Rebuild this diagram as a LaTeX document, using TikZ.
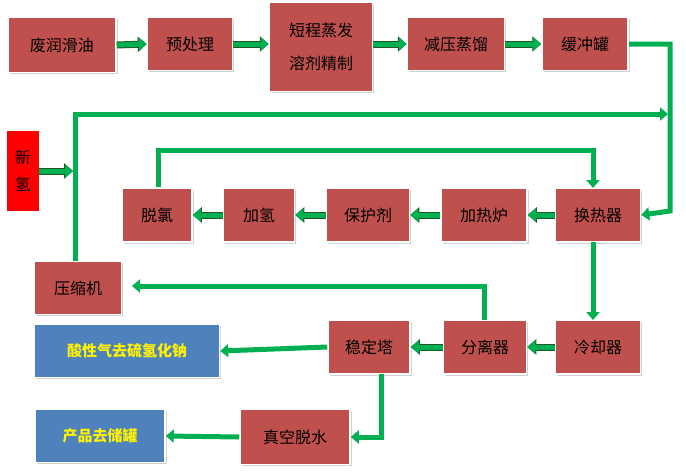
\documentclass[tikz,border=0pt]{standalone}
\usepackage{fontspec}
\setmainfont{Noto Sans CJK SC}
\usetikzlibrary{arrows.meta,shadows,calc}
\definecolor{boxred}{RGB}{192,80,77}
\definecolor{boxblue}{RGB}{79,129,189}
\definecolor{flowgreen}{RGB}{0,176,80}
\definecolor{edgegreen}{RGB}{30,90,40}
\tikzstyle{box}=[draw=white, line width=1.5pt, fill=boxred, font=\fontsize{16}{19}\selectfont, drop shadow={shadow xshift=1.5pt, shadow yshift=-1.5pt, fill=black!35}, inner sep=0pt]
\tikzstyle{outbox}=[box, fill=boxblue, text=yellow, font=\fontsize{15}{18}\selectfont\bfseries]
\tikzstyle{flow}=[flowgreen, line width=5pt, -{Triangle[length=8pt,width=13pt]}]
\tikzstyle{blockflow}=[flow, preaction={draw=edgegreen, line width=7pt, -{Triangle[length=9pt,width=15pt]}}]
\begin{document}
\begin{tikzpicture}[x=1pt,y=-1pt]
  \useasboundingbox (0,0) rectangle (686,475);
  % top row
  \node[box, minimum width=108pt, minimum height=55pt] (oil) at (62,45) {废润滑油};
  \node[box, minimum width=85pt, minimum height=53pt] (pre) at (190,44) {预处理};
  \node[box, minimum width=103pt, minimum height=89pt, align=center] (evap) at (321,47) {短程蒸发\\[14pt]溶剂精制};
  \node[box, minimum width=97pt, minimum height=53pt] (vac) at (456,44) {减压蒸馏};
  \node[box, minimum width=86pt, minimum height=53pt] (buf) at (585,44) {缓冲罐};
  % hydrogen
  \node[fill=red, minimum width=32pt, minimum height=80pt, inner sep=0pt, align=center, font=\fontsize{16}{19}\selectfont] (h2) at (23,171) {新\\[8pt]氢};
  % middle row
  \node[box, minimum width=70pt, minimum height=54pt] (dechl) at (157,215) {脱氯};
  \node[box, minimum width=71pt, minimum height=54pt] (hydro) at (259,215) {加氢};
  \node[box, minimum width=83pt, minimum height=54pt] (guard) at (368,215) {保护剂};
  \node[box, minimum width=86pt, minimum height=54pt] (heat) at (484,215) {加热炉};
  \node[box, minimum width=85pt, minimum height=54pt] (hx) at (598,215) {换热器};
  % lower rows
  \node[box, minimum width=87pt, minimum height=53pt] (comp) at (78,288) {压缩机};
  \node[outbox, minimum width=185pt, minimum height=53pt] (acid) at (127,351) {酸性气去硫氢化钠};
  \node[box, minimum width=82pt, minimum height=54pt] (stab) at (369,347) {稳定塔};
  \node[box, minimum width=83pt, minimum height=54pt] (sep) at (485,347) {分离器};
  \node[box, minimum width=85pt, minimum height=54pt] (cool) at (598,347) {冷却器};
  \node[box, minimum width=110pt, minimum height=55pt] (dry) at (295,437) {真空脱水};
  \node[outbox, minimum width=130pt, minimum height=53pt] (prod) at (100,436) {产品去储罐};
  % short block arrows
  \draw[blockflow] (oil.east) -- (pre.west);
  \draw[blockflow] (pre.east) -- (evap.west |- pre.east);
  \draw[blockflow] (evap.east |- vac.west) -- (vac.west);
  \draw[blockflow] (vac.east) -- (buf.west);
  \draw[blockflow] (h2.east) -- (73,171);
  \draw[blockflow] (hx.west) -- (heat.east);
  \draw[blockflow] (heat.west) -- (guard.east);
  \draw[blockflow] (guard.west) -- (hydro.east);
  \draw[blockflow] (hydro.west) -- (dechl.east);
  \draw[blockflow] (cool.west) -- (sep.east);
  \draw[blockflow] (sep.west) -- (stab.east);
  % long lines
  \draw[flow] (buf.east) -| (670,211) -- (hx.east);
  \draw[flow] (comp.north -| 75,0) -- (75,114) -- (668,114);
  \draw[flow] (dechl.north -| 158,0) |- (593,150) -- (593,188);
  \draw[flow] (593,242) -- (593,320);
  \draw[flow] (484,320) |- (132,286);
  \draw[flow] (stab.west) -- (acid.east);
  \draw[flow] (381,374) |- (dry.east);
  \draw[flow] (dry.west) -- (prod.east);
\end{tikzpicture}
\end{document}
